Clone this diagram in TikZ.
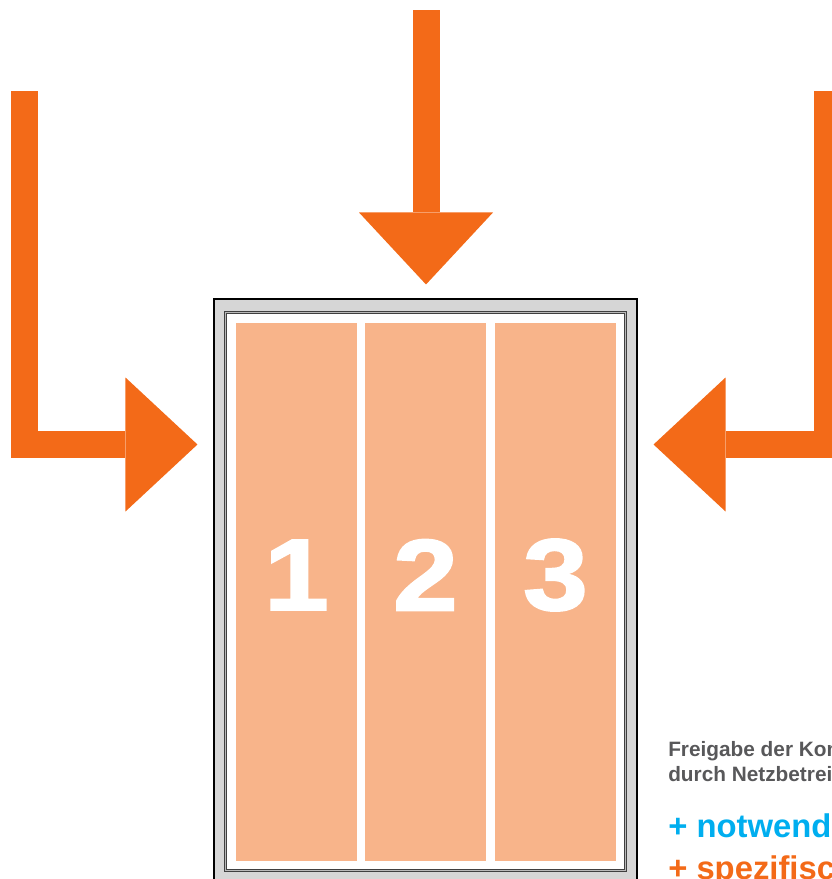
\documentclass[tikz,border=0pt]{standalone}
\usepackage{fontspec}
\setmainfont{Liberation Sans}
\newfontfamily\digitfont[FakeBold=2,FakeStretch=1.15]{Liberation Sans Bold}
\usetikzlibrary{arrows.meta,positioning}

\definecolor{arroworange}{RGB}{243,106,24}
\definecolor{panelorange}{RGB}{248,180,138}
\definecolor{framegray}{RGB}{214,214,214}
\definecolor{notegray}{RGB}{88,88,90}
\definecolor{notecyan}{RGB}{0,174,239}

\begin{document}
\begin{tikzpicture}[x=0.75pt, y=-0.75pt,
    bigarrow/.style={arroworange, line width=20.25pt, line join=miter, -{Triangle[width=100.5pt, length=54pt, line width=0pt]}},
    frame/.style={rectangle, draw=black, line width=0.8pt, fill=framegray, minimum width=317.25pt, minimum height=438pt, inner sep=0pt},
    panel/.style={rectangle, fill=panelorange, minimum width=90.75pt, minimum height=403.5pt, inner sep=0pt},
    digit/.style={text=white, font=\digitfont\fontsize{76}{76}\selectfont, inner sep=0pt},
    note/.style={anchor=base west, inner sep=0pt, font=\bfseries\fontsize{15.6}{18.75}\selectfont, text=notegray},
    plus/.style={anchor=base west, inner sep=0pt, font=\bfseries\fontsize{24.6}{31.5}\selectfont},
]
\useasboundingbox (0,0) rectangle (832,879);
\clip (0,0) rectangle (832,879);

% Window frame
\node[frame] (frame) at (425.5,591) {};
\draw[draw=black!75, double=gray!55, double distance=1.2pt, line width=0.6pt, fill=white] (225.5,312.5) rectangle (625.5,870.5);

% Three panels with numbers
\foreach \i/\x in {1/296.5, 2/425.5, 3/555.5} {
  \node[panel] (p\i) at (\x,592) {};
  \node[digit] (n\i) at (\x,575) {\i};
}

% Arrows towards the frame
\coordinate (lstart) at (24.5,91);
\coordinate (tstart) at (426,10);
\coordinate (rstart) at (827.5,91);
\coordinate (arow) at (0,444.5);
\draw[bigarrow, shorten >=12pt] (lstart) |- (frame.west |- arow);
\draw[bigarrow, shorten >=10.5pt] (tstart) -- (tstart |- frame.north);
\draw[bigarrow, shorten >=12pt] (rstart) |- (frame.east |- arow);

% Notes on the right
\node[note] (release) at (668,756) {Freigabe der Komponenten};
\node[note] (operator) at (668,781) {durch Netzbetreiber};
\node[plus, text=notecyan] (needed) at (668,837) {+ notwendige};
\node[plus, text=arroworange] (specific) at (668,879) {+ spezifische};

\end{tikzpicture}
\end{document}
